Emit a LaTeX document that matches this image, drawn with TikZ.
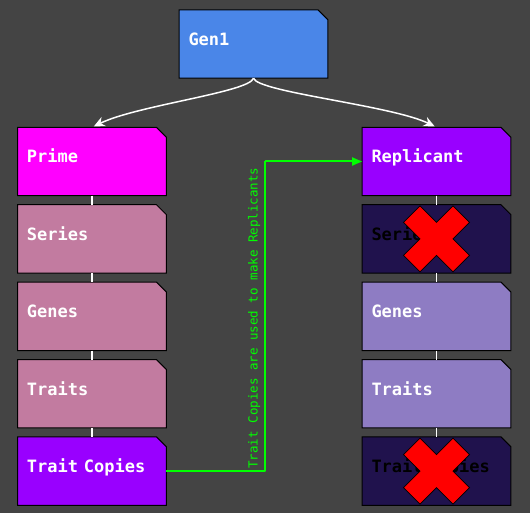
\documentclass[tikz,border=0pt]{standalone}
\usepackage{fontspec}
\setmonofont{DejaVu Sans Mono}
\newfontfamily\cardfont{DejaVu Sans Mono Bold}
\usetikzlibrary{positioning,arrows.meta}
\usepackage{xcolor}

\definecolor{canvas}{HTML}{444444}
\definecolor{genblue}{HTML}{4A86E8}
\definecolor{primepink}{HTML}{FF00FF}
\definecolor{mauve}{HTML}{C27BA0}
\definecolor{repviolet}{HTML}{9900FF}
\definecolor{deadnavy}{HTML}{20124D}
\definecolor{lilac}{HTML}{8E7CC3}
\definecolor{linkgreen}{HTML}{00FF00}

\pgfdeclarelayer{bg}
\pgfdeclarelayer{canvaslayer}
\pgfsetlayers{canvaslayer,bg,main}

\tikzset{
  card/.style={minimum width=148.5pt, minimum height=68pt, text width=130pt, align=left,
    inner xsep=9pt, inner ysep=0pt, text height=12pt, text depth=9pt,
    font=\cardfont\fontsize{17}{19}\selectfont, text=white},
  stack/.style={draw=white, line width=1.5pt},
  spawn/.style={draw=white, line width=1.5pt, -{Stealth[length=11pt,width=10pt]}, shorten >=2pt},
  copyline/.style={draw=linkgreen, line width=2pt, line join=round}
}

% chamfered card backdrop
\newcommand{\cardbg}[2]{%
  \begin{pgfonlayer}{bg}
    \filldraw[fill=#2, draw=black, line width=1pt] (#1.south west) -- (#1.north west)
      -- ([xshift=-10pt]#1.north east) -- ([yshift=-10pt]#1.north east) -- (#1.south east) -- cycle;
  \end{pgfonlayer}}

% red cross over a dropped card
\newcommand{\strike}[1]{%
  \filldraw[fill=red, draw=black, line width=0.8pt, shift={(#1.center)}]
    (0,16.5) -- (16.5,33) -- (33,16.5) -- (16.5,0) -- (33,-16.5) -- (16.5,-33) -- (0,-16.5)
    -- (-16.5,-33) -- (-33,-16.5) -- (-16.5,0) -- (-33,16.5) -- (-16.5,33) -- cycle;}

\begin{document}
\begin{tikzpicture}[x=1pt,y=1pt,node distance=9pt]
  \begin{pgfonlayer}{canvaslayer}
    \fill[canvas] (0,0) rectangle (530,-513);
  \end{pgfonlayer}
  \useasboundingbox (0,0) rectangle (530,-513);

  \node[card] (gen1) at (253.5,-44) {Gen1};

  % left column
  \node[card] (prime) at (92,-161.5) {Prime};
  \node[card, below=of prime] (lseries) {Series};
  \node[card, below=of lseries] (lgenes) {Genes};
  \node[card, below=of lgenes] (ltraits) {Traits};
  \node[card, below=of ltraits] (ltcopies) {Trait Copies};

  % right column
  \node[card] (replicant) at (436.5,-161.5) {Replicant};
  \node[card, below=of replicant, text=black] (rseries) {Series};
  \node[card, below=of rseries] (rgenes) {Genes};
  \node[card, below=of rgenes] (rtraits) {Traits};
  \node[card, below=of rtraits, text=black] (rtcopies) {Trait Copies};

  \cardbg{gen1}{genblue}
  \cardbg{prime}{primepink}
  \cardbg{lseries}{mauve}
  \cardbg{lgenes}{mauve}
  \cardbg{ltraits}{mauve}
  \cardbg{ltcopies}{repviolet}
  \cardbg{replicant}{repviolet}
  \cardbg{rseries}{deadnavy}
  \cardbg{rgenes}{lilac}
  \cardbg{rtraits}{lilac}
  \cardbg{rtcopies}{deadnavy}

  \draw[stack] (prime) -- (lseries);
  \draw[stack] (lseries) -- (lgenes);
  \draw[stack] (lgenes) -- (ltraits);
  \draw[stack] (ltraits) -- (ltcopies);
  \draw[stack] (replicant) -- (rseries);
  \draw[stack] (rseries) -- (rgenes);
  \draw[stack] (rgenes) -- (rtraits);
  \draw[stack] (rtraits) -- (rtcopies);

  \draw[spawn] (gen1.south) .. controls +(-4,-14) and +(45,22) .. (prime.north);
  \draw[spawn] (gen1.south) .. controls +(4,-14) and +(-45,22) .. (replicant.north);

  \coordinate (bend) at ([xshift=99pt]ltcopies.east);
  \coordinate (turn) at (bend |- replicant.west);
  \draw[copyline] (ltcopies.east) -- (bend) -- (turn);
  \draw[copyline, -{Triangle[length=10pt,width=8pt]}] (turn) -- (replicant.west);
  \node[rotate=90, anchor=south, inner sep=5pt, text=linkgreen,
    font=\ttfamily\fontsize{12.5}{14}\selectfont] (copynote) at ([yshift=153pt]bend)
    {Trait Copies are used to make Replicants};

  \strike{rseries}
  \strike{rtcopies}
\end{tikzpicture}
\end{document}
